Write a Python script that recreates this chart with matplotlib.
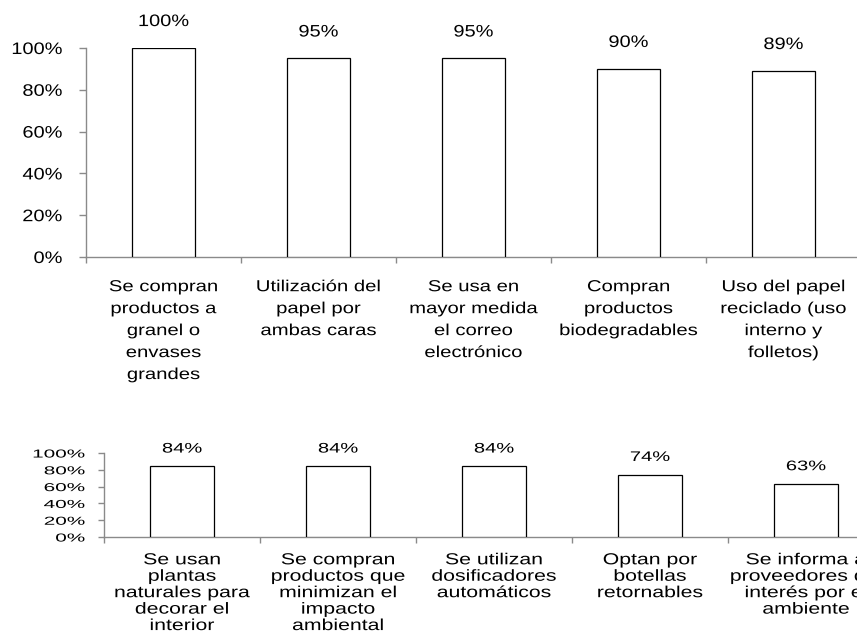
import matplotlib
matplotlib.use("Agg")
import numpy as np
import matplotlib.pyplot as plt
from matplotlib.path import Path
from matplotlib.patheffects import AbstractPathEffect
from matplotlib.ticker import PercentFormatter, FixedLocator

plt.rcParams['font.family'] = ['Liberation Sans', 'DejaVu Sans']

# upper panel
top_labels = [
    "Se compran\nproductos a\ngranel o\nenvases\ngrandes",
    "Utilización del\npapel por\nambas caras",
    "Se usa en\nmayor medida\nel correo\nelectrónico",
    "Compran\nproductos\nbiodegradables",
    "Uso del papel\nreciclado (uso\ninterno y\nfolletos)",
]
top_values = [100, 95, 95, 90, 89]

# lower panel
bottom_labels = [
    "Se usan\nplantas\nnaturales para\ndecorar el\ninterior",
    "Se compran\nproductos que\nminimizan el\nimpacto\nambiental",
    "Se utilizan\ndosificadores\nautomáticos",
    "Optan por\nbotellas\nretornables",
    "Se informa a\nproveedores del\ninterés por el\nambiente",
]
bottom_values = [84, 84, 84, 74, 63]

yticks = [0, 20, 40, 60, 80, 100]
axis_grey = '#8a8a8a'


class Widen(AbstractPathEffect):
    """Stretch glyphs horizontally, keeping each line's anchor in place."""

    def __init__(self, sx, anchor='center'):
        super().__init__()
        self.sx = sx
        self.anchor = anchor

    def draw_path(self, renderer, gc, tpath, affine, rgbFace=None):
        v = np.array(tpath.vertices, dtype=float)
        if len(v):
            if self.anchor == 'right':
                cx = v[:, 0].max()
            else:
                cx = 0.5 * (v[:, 0].min() + v[:, 0].max())
            v[:, 0] = (v[:, 0] - cx) * self.sx + cx
        renderer.draw_path(gc, Path(v, tpath.codes), affine, rgbFace)


fig = plt.figure(figsize=(8.57, 6.35), dpi=100)
ax1 = fig.add_axes([0.1003, 0.5953, 0.9043, 0.3291])
ax2 = fig.add_axes([0.1214, 0.1543, 0.9100, 0.1323])


def draw_panel(ax, labels, values, tick_fs, tick_sx, label_fs, label_sx,
               val_fs, val_sx, val_off, tick_pad, label_pad, linesp,
               ylen, xlen):
    x = list(range(len(values)))
    ax.bar(x, values, width=0.41, color='white', edgecolor='black',
           linewidth=0.9, zorder=3)
    for xi, v in zip(x, values):
        ax.annotate(f"{v}%", (xi, v), xytext=(0, val_off),
                    textcoords='offset points', ha='center', va='baseline',
                    fontsize=val_fs, path_effects=[Widen(val_sx)])
    ax.set_xlim(-0.5, len(values) - 0.5)
    ax.set_ylim(0, 100)
    ax.set_yticks(yticks)
    ax.yaxis.set_major_formatter(PercentFormatter(decimals=0))
    ax.set_xticks(x)
    ax.set_xticklabels(labels, fontsize=label_fs, linespacing=linesp)
    ax.xaxis.set_minor_locator(FixedLocator([i - 0.5 for i in range(len(values) + 1)]))
    ax.tick_params(axis='x', which='major', length=0, pad=label_pad)
    ax.tick_params(axis='x', which='minor', length=xlen, color=axis_grey, width=1)
    ax.tick_params(axis='y', length=ylen, color=axis_grey, width=1,
                   pad=tick_pad, labelsize=tick_fs)
    for t in ax.get_xticklabels():
        t.set_path_effects([Widen(label_sx)])
    for t in ax.get_yticklabels():
        t.set_path_effects([Widen(tick_sx, anchor='right')])
    for s in ['top', 'right']:
        ax.spines[s].set_visible(False)
    for s in ['left', 'bottom']:
        ax.spines[s].set_color(axis_grey)
        ax.spines[s].set_linewidth(1)
        ax.spines[s].set_clip_on(False)


draw_panel(ax1, top_labels, top_values,
           tick_fs=12, tick_sx=1.2, label_fs=11.5, label_sx=1.27,
           val_fs=12, val_sx=1.2, val_off=15.8,
           tick_pad=12, label_pad=16, linesp=1.58, ylen=5, xlen=4)
draw_panel(ax2, bottom_labels, bottom_values,
           tick_fs=8.3, tick_sx=1.8, label_fs=11.5, label_sx=1.33,
           val_fs=10, val_sx=1.45, val_off=10,
           tick_pad=9.5, label_pad=11, linesp=1.12, ylen=4.3, xlen=4)

fig.savefig('out.png', dpi=100)
